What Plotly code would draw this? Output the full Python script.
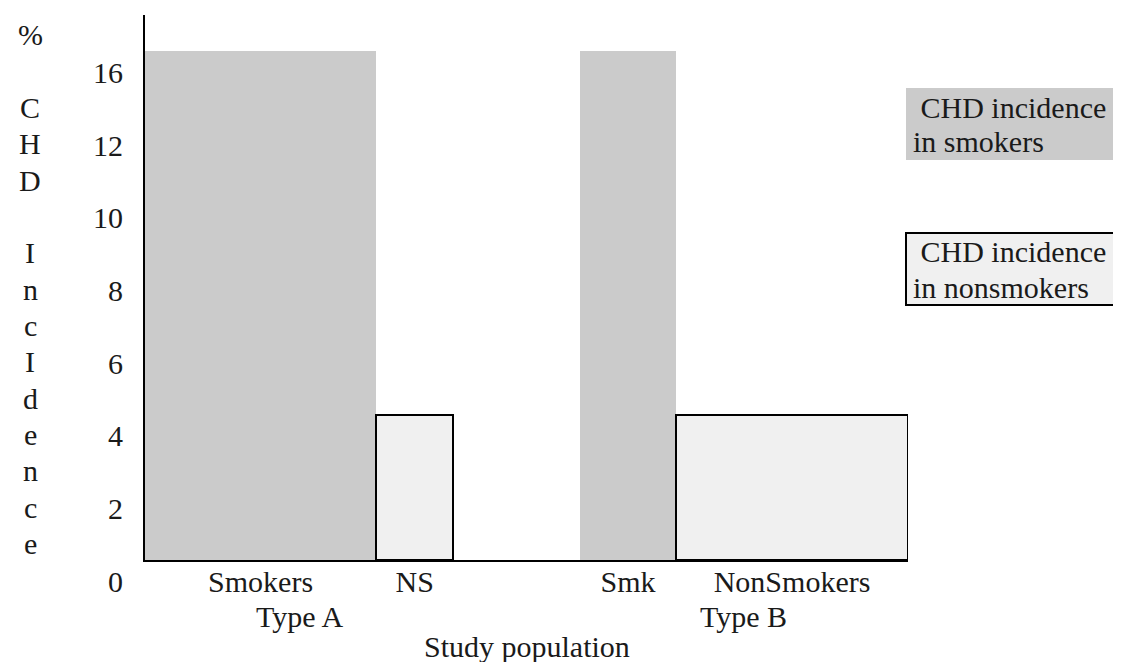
import plotly.graph_objects as go

# ---- data ----
categories = ["Smokers", "NS", "Smk", "NonSmokers"]
bar_left = [0.0, 30.3, 57.0, 69.6]
bar_width = [30.3, 10.1, 12.6, 30.4]
incidence = [14.0, 4.0, 14.0, 4.0]
is_smoker = [True, False, True, False]
groups = ["Type A", "Type B"]
group_members = [[0, 1], [2, 3]]
ytick_vals = [0, 2, 4, 6, 8, 10, 12, 14]
ytick_text = ["0", "2", "4", "6", "8", "10", "12", "16"]
ytitle_letters = ["%", "", "C", "H", "D", "", "I", "n", "c", "I", "d", "e", "n", "c", "e"]
legend_lines = [[" CHD incidence", "in smokers"], [" CHD incidence", "in nonsmokers"]]

# ---- style ----
FONT = "Liberation Serif"
FS = 30
GRAY = "#cbcbcb"
LIGHT = "#f0f0f0"
W, H = 1121, 662
ML, MR, MT, MB = 137, 221, 7, 110

centers = [l + w / 2 for l, w in zip(bar_left, bar_width)]

fig = go.Figure()
for smoker, col, lw in [(True, GRAY, 0), (False, LIGHT, 2)]:
    idx = [i for i, s in enumerate(is_smoker) if s == smoker]
    fig.add_trace(go.Bar(
        x=[centers[i] for i in idx],
        y=[incidence[i] for i in idx],
        width=[bar_width[i] for i in idx],
        marker=dict(color=col, line=dict(color="black", width=lw)),
        showlegend=False, hoverinfo="skip",
    ))

fig.update_layout(
    width=W, height=H,
    margin=dict(l=ML, r=MR, t=MT, b=MB),
    plot_bgcolor="white", paper_bgcolor="white",
    barmode="overlay", bargap=0,
    font=dict(family=FONT, size=FS, color="#1a1a1a"),
    xaxis=dict(range=[0, 100], showgrid=False, zeroline=False,
               showline=True, linecolor="black", linewidth=2,
               tickvals=centers, ticktext=categories, ticks="",
               ticklabelstandoff=-6,
               fixedrange=True),
    yaxis=dict(range=[0, 15], showgrid=False, zeroline=False,
               showline=True, linecolor="black", linewidth=2,
               tickvals=ytick_vals, ticktext=ytick_text, ticks="",
               ticklabelshift=21, ticklabelstandoff=14,
               fixedrange=True),
)

plot_w = W - ML - MR
plot_h = H - MT - MB

def px_x(px):
    return (px - ML) / plot_w

def px_y(py):
    return (H - MB - py) / plot_h

# group labels
for g, members in zip(groups, group_members):
    lo = min(bar_left[i] for i in members)
    hi = max(bar_left[i] + bar_width[i] for i in members)
    fig.add_annotation(x=(lo + hi) / 2, y=0, xref="x", yref="paper",
                       text=g, showarrow=False, yanchor="middle", yshift=-56)

fig.add_annotation(x=0.5, y=0, xref="paper", yref="paper", text="Study population",
                   showarrow=False, yanchor="middle", yshift=-86)

# vertical y-title letters
n = len(ytitle_letters)
for i, ch in enumerate(ytitle_letters):
    if ch:
        fig.add_annotation(x=0, y=n - 1 - i + 0.45, xref="paper", yref="y", text=ch,
                           showarrow=False, xanchor="center", yanchor="middle", xshift=-115)

# legend boxes
boxes = [(80, 152, GRAY, 0), (225, 297, LIGHT, 2)]
for (top, bot, col, lw), lines in zip(boxes, legend_lines):
    fig.add_shape(type="rect", xref="paper", yref="paper",
                  x0=px_x(898), x1=px_x(1220), y0=px_y(bot), y1=px_y(top),
                  fillcolor=col, line=dict(color="black", width=lw), layer="above")
    for k, t in enumerate(lines):
        fig.add_annotation(x=px_x(903), y=px_y(top + 19 + 35 * k), xref="paper", yref="paper",
                           text=t.replace(" ", "\u00a0"), showarrow=False,
                           xanchor="left", yanchor="middle")

fig.write_html("out.html")
